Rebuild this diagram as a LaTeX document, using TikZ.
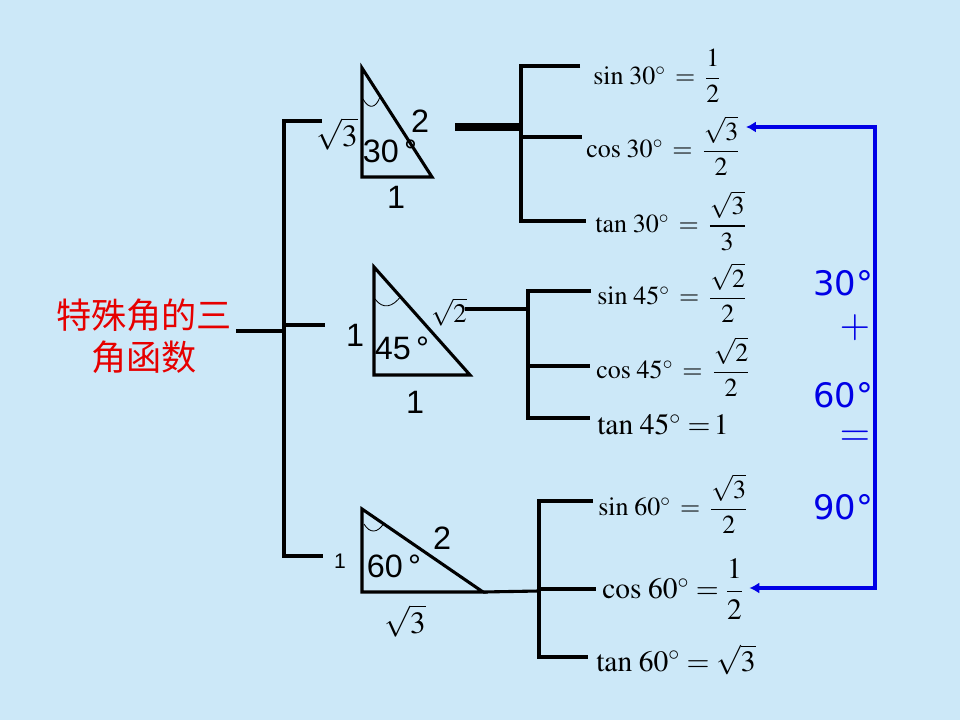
\documentclass[tikz,border=0pt]{standalone}
\usepackage{amsmath}
\usepackage{mathptmx}
\usepackage{fontspec}
\setmainfont{Liberation Serif}
\newfontfamily\cnfont{Noto Sans CJK SC}
\newfontfamily\arialfont{Liberation Sans}
\newfontfamily\verdfont{DejaVu Sans}
\usetikzlibrary{arrows.meta}
\definecolor{bgblue}{RGB}{204,232,248}
\definecolor{myred}{RGB}{230,0,0}
\definecolor{myblue}{RGB}{0,0,230}

\begin{document}
\begin{tikzpicture}[x=0.025cm, y=-0.025cm,
        line/.style={line width=2.2pt},
        angmark/.style={line width=0.6pt},
        eq/.style={anchor=west, inner sep=0pt, font=\fontsize{18.5}{22}\selectfont},
        bigeq/.style={eq, font=\fontsize{21}{25}\selectfont},
        side/.style={inner sep=0pt, font=\arialfont\fontsize{23}{27}\selectfont},
        rootlab/.style={inner sep=0pt, font=\fontsize{22}{26}\selectfont},
        sum/.style={inner sep=0pt, text=myblue, font=\verdfont\fontsize{24}{28}\selectfont},
        flow/.style={draw=myblue, line width=2.3pt, {Latex[length=7pt,width=8pt]}-{Latex[length=7pt,width=8pt]}, shorten <=4pt, shorten >=4pt}
      ]
        \fill[bgblue] (0,0) rectangle (960,720);
        \node[text=myred, align=center, inner sep=3pt, font=\cnfont\fontsize{25}{30}\selectfont] at (144,336) (title) {特殊角的三\\角函数};

        \coordinate (j0) at (284,331);
        \coordinate (b30) at (322,121);
        \coordinate (b45) at (325,325);
        \coordinate (b60) at (323,556);
        \draw[line] (title.east |- j0) -- (j0);
        \draw[line] (b30) -| (j0 |- b60) -- (b60);
        \draw[line] (j0 |- b45) -- (b45);

        \coordinate (A30) at (362,68);
        \coordinate (B30) at (362,177);
        \coordinate (C30) at (432,177);
        \draw[line] (A30) -- (B30) -- (C30) -- cycle;
        \draw[angmark] (363,99) .. controls (369,110) and (376,108) .. (380,97);
        \node[rootlab] at (337,134) (r30) {$\sqrt{3}$};
        \node[side] at (420,121) (h30l) {2};
        \node[side] at (390,151) (a30) {30\,°};
        \node[side] at (396,197) (u30) {1};

        \coordinate (A45) at (374,267);
        \coordinate (B45) at (374,375);
        \coordinate (C45) at (470,375);
        \draw[line] (A45) -- (B45) -- (C45) -- cycle;
        \draw[angmark] (375,299) .. controls (383,310) and (393,307) .. (401,296);
        \node[side] at (355,335) (l45) {1};
        \node[side] at (402,348) (a45) {45\,°};
        \node[rootlab, font=\fontsize{19}{23}\selectfont] at (449,312) (r45) {$\sqrt{2}$};
        \node[side] at (415,402) (u45) {1};

        \coordinate (A60) at (362,509);
        \coordinate (B60) at (362,592);
        \coordinate (C60) at (483,592);
        \draw[line] (A60) -- (B60) -- (C60) -- cycle;
        \draw[angmark] (364,524) .. controls (370,534) and (378,533) .. (384,523);
        \node[side, font=\arialfont\fontsize{15}{18}\selectfont] at (340,561) (l60) {1};
        \node[side] at (394,566) (a60) {60\,°};
        \node[side] at (442,538) (h60l) {2};
        \node[rootlab] at (405,621) (r60) {$\sqrt{3}$};

        \node[eq] (s30) at (593,76) {$\sin\,30^\circ \:=\: \dfrac{1}{2}$};
        \node[eq] (c30) at (586,146) {$\cos\,30^\circ \:=\: \dfrac{\sqrt{3}}{2}$};
        \node[eq] (t30) at (595,221) {$\tan\,30^\circ \:=\: \dfrac{\sqrt{3}}{3}$};
        \node[eq] (s45) at (597,293) {$\sin\,45^\circ \:=\: \dfrac{\sqrt{2}}{2}$};
        \node[eq] (c45) at (596,367) {$\cos\,45^\circ \:=\: \dfrac{\sqrt{2}}{2}$};
        \node[bigeq] (t45) at (597,425) {$\tan\,45^\circ =\! 1$};
        \node[eq] (s60) at (598,504) {$\sin\,60^\circ \:=\: \dfrac{\sqrt{3}}{2}$};
        \node[bigeq] (c60) at (602,589) {$\cos\,60^\circ = \dfrac{1}{2}$};
        \node[bigeq] (t60) at (596,660) {$\tan\,60^\circ = \sqrt{3}$};

        \coordinate (h30) at (455,127);
        \coordinate (k30) at (521,127);
        \coordinate (s30l) at (580,66);
        \coordinate (c30l) at (582,137);
        \coordinate (t30l) at (586,221);
        \draw[line, line width=5pt] (h30) -- (k30);
        \draw[line] (s30l) -| (k30 |- t30l) -- (t30l);
        \draw[line] (k30 |- c30l) -- (c30l);

        \coordinate (h45) at (465,309);
        \coordinate (k45) at (528,309);
        \coordinate (s45l) at (591,291);
        \coordinate (c45l) at (590,366);
        \coordinate (t45l) at (590,418);
        \draw[line] (h45) -- (k45);
        \draw[line] (s45l) -| (k45 |- t45l) -- (t45l);
        \draw[line] (k45 |- c45l) -- (c45l);

        \coordinate (k60) at (539,591);
        \coordinate (s60l) at (593,501);
        \coordinate (c60l) at (596,589);
        \coordinate (t60l) at (588,657);
        \draw[line] (C60) -- (k60);
        \draw[line] (s60l) -| (k60 |- t60l) -- (t60l);
        \draw[line] (k60 |- c60l) -- (c60l);

        \coordinate (r1) at (875,127);
        \coordinate (r2) at (875,588);
        \draw[flow] (c30.east |- r1) -- (r1) -- (r2) -- (c60.east |- r2);
        \node[sum] at (843,283) (n30) {30°};
        \node[sum, font=\fontsize{28}{32}\selectfont] at (855,328) (plus) {$+$};
        \node[sum] at (843,395) (n60) {60°};
        \node[sum, font=\fontsize{28}{32}\selectfont] at (855,438) (eqs) {$=$};
        \node[sum] at (843,507) (n90) {90°};
      \end{tikzpicture}
\end{document}
